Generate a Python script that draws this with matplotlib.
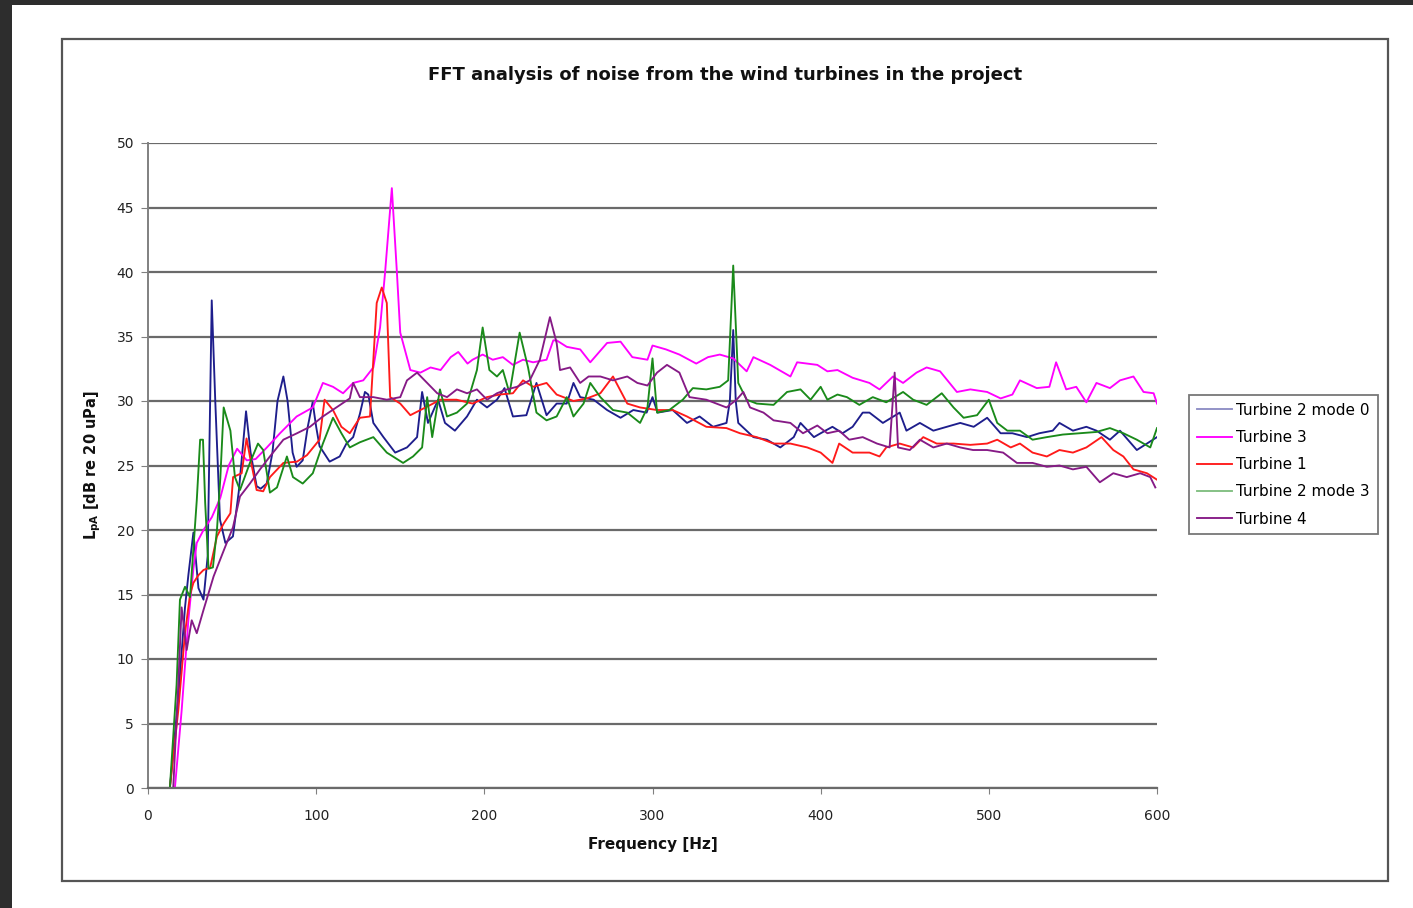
import numpy as np
import matplotlib
matplotlib.use('Agg')
from matplotlib import pyplot as plt
from matplotlib.patches import Rectangle

plt.rcParams['font.family'] = ['DejaVu Sans']

# Turbine 2 mode 0
f_t2m0 = [13, 18, 22, 24, 27, 30, 33, 35.5, 37.9, 40, 42.8, 46, 50.5, 54, 58.3, 61, 64.6, 67, 70.6, 74,
          77, 80.5, 83, 86, 88.4, 92, 95, 97.9, 100, 102, 108, 114, 118, 122, 126, 129, 131, 134, 140, 147,
          154, 160, 163, 166.5, 172.5, 176.6, 182.5, 189.7, 195.6, 201.6, 207.5, 212, 217, 225, 231, 237,
          243, 249, 253, 257, 265, 273, 281, 288.6, 296.5, 300, 303, 312, 320.5, 328, 336, 344, 346, 348,
          349.5, 351, 360, 368, 376, 384, 388, 396, 400, 407, 413, 419, 425, 429, 431, 437, 447, 451, 459,
          467, 475, 483, 491, 499, 507, 514, 522.7, 530, 538, 542, 550, 558, 564, 572, 578, 588, 594, 600]
v_t2m0 = [0, 7, 14, 16.5, 19.8, 15.5, 14.6, 18, 37.8, 30, 20.8, 19, 19.5, 23, 29.2, 26, 23.4, 23.2, 23.6, 26,
          30, 31.9, 30, 26, 24.9, 25.4, 28, 29.9, 28, 26.5, 25.3, 25.7, 26.7, 27.2, 29, 30.7, 30.5, 28.3, 27.2, 26.0,
          26.4, 27.2, 30.7, 28.3, 30.1, 28.3, 27.7, 28.8, 30.1, 29.5, 30.1, 31.0, 28.8, 28.9, 31.4, 28.9,
          29.8, 29.8, 31.4, 30.3, 30.1, 29.3, 28.7, 29.3, 29.1, 30.3, 29.1, 29.3, 28.3, 28.8, 28.0, 28.3, 30, 35.5,
          30, 28.3, 27.2, 27.0, 26.4, 27.2, 28.3, 27.2, 27.5, 28.0, 27.5, 28.0, 29.1, 29.1, 28.9, 28.3, 29.1, 27.7, 28.3,
          27.7, 28.0, 28.3, 28.0, 28.7, 27.5, 27.5, 27.2, 27.5, 27.7, 28.3, 27.7, 28.0, 27.7, 27.0, 27.7, 26.2, 26.7, 27.2]

# Turbine 3
f_t3 = [16, 20, 24, 27, 29, 33, 38, 43, 48, 53, 58.7, 64, 70.7, 78.5, 88.4, 98, 104, 110, 116, 122, 128, 134,
        138, 141, 145, 148, 150, 156, 162, 168, 174, 180, 184.5, 190, 193, 199, 205, 211, 217, 223, 229, 237,
        241, 243, 249, 257, 263, 273, 281, 288, 297, 300, 308, 316, 326, 333, 340, 348, 356, 360, 370, 382,
        386, 398, 404, 410, 419, 429, 435, 443, 449, 457, 463, 471, 481, 489, 499, 507, 514, 518.5, 528.5,
        536, 540, 546, 552, 558, 564, 572, 578, 586, 592, 598, 600]
v_t3 = [0, 6, 13, 17, 19, 20, 21, 22.5, 25, 26.3, 25.4, 25.5, 26.4, 27.5, 28.8, 29.5, 31.4, 31.1, 30.6, 31.4, 31.6, 32.6,
        35.7, 40, 46.5, 40, 35.3, 32.4, 32.2, 32.6, 32.4, 33.4, 33.8, 32.9, 33.2, 33.6, 33.2, 33.4, 32.8, 33.2, 33.0, 33.2,
        34.7, 34.7, 34.2, 34.0, 33.0, 34.5, 34.6, 33.4, 33.2, 34.3, 34, 33.6, 32.9, 33.4, 33.6, 33.3, 32.3, 33.4, 32.8, 31.9,
        33.0, 32.8, 32.3, 32.4, 31.8, 31.4, 30.9, 31.9, 31.4, 32.2, 32.6, 32.3, 30.7, 30.9, 30.7, 30.2, 30.5, 31.6, 31.0,
        31.1, 33.0, 30.9, 31.1, 29.9, 31.4, 31.0, 31.6, 31.9, 30.7, 30.6, 29.8]

# Turbine 1
f_t1 = [13, 18, 22, 25, 27, 30, 33, 37, 41, 45, 49, 50.6, 55.7, 58.6, 60.6, 64.6, 68.5, 72.5, 80.5, 88.6, 94.5,
        102, 105, 110, 115, 120, 126, 132, 136, 139, 142, 144, 150, 156, 162, 169.5, 173.6, 183.5, 193, 201.5,
        209, 217, 223, 229, 237, 243, 253, 261, 269, 276.5, 285, 292.6, 302.7, 312, 320.5, 332, 344, 352, 362,
        372, 382, 392, 400, 407, 411, 419, 429, 435, 439, 447, 455, 461, 469, 479, 489, 499, 505, 513, 518.5,
        526, 534.5, 542, 550, 558, 567, 574, 580, 586, 594, 600]
v_t1 = [0, 6, 12, 15, 15.9, 16.5, 16.9, 17.1, 19.5, 20.5, 21.3, 24.1, 24.4, 27.1, 25.7, 23.1, 23.0, 24.1, 25.2, 25.3, 25.8,
        27.0, 30.1, 29.3, 28.0, 27.5, 28.7, 28.8, 37.6, 38.8, 37.6, 30.3, 29.8, 28.9, 29.3, 29.8, 30.1, 30.1, 29.8, 30.3,
        30.5, 30.6, 31.6, 31.1, 31.4, 30.5, 30.0, 30.2, 30.6, 31.9, 29.8, 29.5, 29.3, 29.3, 28.8, 28.0, 27.9, 27.5, 27.2,
        26.7, 26.7, 26.4, 26.0, 25.2, 26.7, 26.0, 26.0, 25.7, 26.4, 26.7, 26.4, 27.2, 26.7, 26.7, 26.6, 26.7, 27.0, 26.4, 26.7,
        26.0, 25.7, 26.2, 26.0, 26.4, 27.2, 26.2, 25.7, 24.7, 24.4, 23.9]

# Turbine 2 mode 3
f_t2m3 = [13, 17, 19, 22, 25, 29, 31, 32.7, 34, 36, 38.6, 41, 43, 45, 49, 51.7, 54.7, 60.6, 65.4, 68.5, 72.5,
          76.7, 82.6, 86.2, 92, 98, 104, 110, 115, 120, 126, 134, 142, 151.7, 157.6, 163, 166, 169, 173.6,
          177.8, 183.7, 189.7, 195.6, 199, 203, 207.5, 211, 215, 221, 226, 231, 237, 243, 249, 253, 259, 263,
          269, 276.5, 285, 292.6, 297, 300, 302.7, 310, 318, 324, 332, 340, 345, 348, 351, 356, 362, 372, 380,
          388, 394, 400, 404, 410, 415.6, 423, 431, 439, 449, 455, 463, 472, 479, 485, 493, 500, 505, 511,
          518.5, 526, 534.5, 544, 554, 564, 572, 580, 588, 596, 600]
v_t2m3 = [0, 8, 14.6, 15.6, 14.8, 22.3, 27.0, 27.0, 22.1, 17, 17.1, 20, 24, 29.5, 27.7, 24.1, 23.1, 25.2, 26.7, 26.2, 22.9,
          23.3, 25.7, 24.1, 23.6, 24.4, 26.7, 28.7, 27.5, 26.4, 26.8, 27.2, 26.0, 25.2, 25.7, 26.4, 30.3, 27.2, 30.9,
          28.8, 29.1, 29.8, 32.4, 35.7, 32.4, 31.9, 32.4, 30.6, 35.3, 32.6, 29.1, 28.5, 28.8, 30.3, 28.8, 29.8, 31.4,
          30.3, 29.3, 29.1, 28.3, 29.5, 33.3, 29.1, 29.3, 30.1, 31.0, 30.9, 31.1, 31.6, 40.5, 31.4, 30.1, 29.8, 29.7, 30.7,
          30.9, 30.1, 31.1, 30.1, 30.5, 30.3, 29.7, 30.3, 29.9, 30.7, 30.1, 29.7, 30.6, 29.5, 28.7, 28.9, 30.1, 28.3, 27.7,
          27.7, 27.0, 27.2, 27.4, 27.5, 27.6, 27.9, 27.5, 27.0, 26.4, 27.9]

# Turbine 4
f_t4 = [15, 18, 20, 23, 26, 29, 33, 39, 45, 50.5, 54.7, 60.6, 66.6, 72.5, 80.5, 88.6, 96.3, 104, 112, 120, 122,
        126, 134, 142, 150, 154, 160, 166, 172, 177.8, 183.7, 189.7, 195.6, 201.6, 207.5, 213.5, 219.4, 227,
        233, 239, 243, 245, 251, 257, 262, 269, 276.5, 285, 291, 297, 302.7, 308.6, 316, 322, 332, 344, 350,
        354, 358, 366, 372, 382, 389.5, 398, 404, 411, 417, 425, 433.5, 441, 444, 446, 453, 459, 467, 475,
        483, 490.6, 499, 508.5, 516.7, 526, 534.5, 542, 550, 558, 566, 574, 582, 590, 596, 599]
v_t4 = [0, 8, 14.0, 10.7, 13.0, 12.0, 13.8, 16.4, 18.4, 20.2, 22.6, 23.6, 24.7, 25.7, 27.0, 27.5, 28.0, 28.8, 29.5, 30.2, 31.4,
        30.3, 30.3, 30.1, 30.3, 31.6, 32.2, 31.4, 30.6, 30.3, 30.9, 30.6, 30.9, 30.1, 30.6, 30.9, 31.1, 31.6,
        33.2, 36.5, 34.5, 32.4, 32.6, 31.4, 31.9, 31.9, 31.6, 31.9, 31.4, 31.2, 32.2, 32.8, 32.2, 30.3, 30.1, 29.5, 30.1,
        30.7, 29.5, 29.1, 28.5, 28.3, 27.5, 28.1, 27.5, 27.7, 27.0, 27.2, 26.7, 26.4, 32.2, 26.4, 26.2, 27.0, 26.4, 26.7,
        26.4, 26.2, 26.2, 26.0, 25.2, 25.2, 24.9, 25.0, 24.7, 24.9, 23.7, 24.4, 24.1, 24.4, 24.1, 23.3]

series = [
    ('Turbine 2 mode 0', f_t2m0, v_t2m0, '#1e1e8c'),
    ('Turbine 3', f_t3, v_t3, '#ff00ff'),
    ('Turbine 1', f_t1, v_t1, '#ff1a1a'),
    ('Turbine 2 mode 3', f_t2m3, v_t2m3, '#1a8a1a'),
    ('Turbine 4', f_t4, v_t4, '#861a86'),
]

fig = plt.figure(figsize=(14.13, 9.08), dpi=100, facecolor='#2d2d2d')
fig.patches.append(Rectangle((12/1413, 0), 1 - 12/1413, 1 - 5/908, transform=fig.transFigure,
                             facecolor='white', edgecolor='none', zorder=-10))
fig.patches.append(Rectangle((62/1413, 1 - 881/908), (1388-62)/1413, (881-39)/908, transform=fig.transFigure,
                             facecolor='none', edgecolor='#555555', lw=1.6, zorder=-5))

ax = fig.add_axes([148/1413, 1 - 788/908, (1157-148)/1413, (788-143)/908])
ax.set_facecolor('none')

for name, f, v, col in series:
    ax.plot(f, v, color=col, lw=1.35, label=name)

ax.set_xlim(0, 600)
ax.set_ylim(0, 50)
ax.set_xticks(np.arange(0, 601, 100))
ax.set_yticks(np.arange(0, 51, 5))
ax.yaxis.grid(True, color='#6a6a6a', lw=1.6)
ax.set_axisbelow(True)
for s in ['top', 'right']:
    ax.spines[s].set_visible(False)
ax.spines['left'].set_color('#808080')
ax.spines['left'].set_linewidth(1.4)
ax.spines['bottom'].set_color('#6a6a6a')
ax.spines['bottom'].set_linewidth(1.6)
ax.tick_params(axis='y', length=5, color='#808080', pad=5, labelsize=10, labelcolor='#222222')
ax.tick_params(axis='x', length=4, color='#808080', pad=11, labelsize=10, labelcolor='#222222')

ax.set_xlabel('Frequency [Hz]', fontsize=11, fontweight='bold', labelpad=10, color='#111111')
ax.set_ylabel('L$_{\\mathregular{pA}}$ [dB re 20 uPa]', fontsize=10.5, fontweight='bold', labelpad=10,
              color='#111111')

fig.text(725/1413, 1 - 75/908, 'FFT analysis of noise from the wind turbines in the project',
         ha='center', va='center', fontsize=13, fontweight='bold', color='#111111')

leg = ax.legend(loc='upper left', bbox_to_anchor=(1189/1413, 1 - 395/908), bbox_transform=fig.transFigure,
                fontsize=11, frameon=True, fancybox=False, edgecolor='#555555', handlelength=2.3,
                handletextpad=0.3, borderpad=0.5, labelspacing=0.8, borderaxespad=0)
leg.get_frame().set_linewidth(1.3)
leg.get_lines()[0].set_alpha(0.5)
leg.get_lines()[3].set_alpha(0.55)

plt.savefig('out.png', dpi=100, facecolor=fig.get_facecolor())
